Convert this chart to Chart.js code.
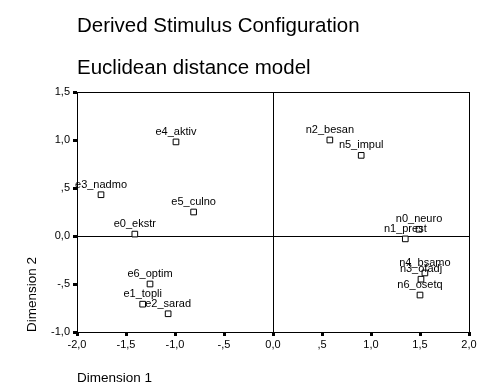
<!DOCTYPE html>
<html>
<head>
<meta charset="utf-8">
<script src="https://cdn.jsdelivr.net/npm/chart.js@4"></script>
<style>
  body { margin: 0; background: #fff; }
  canvas { display: block; }
</style>
</head>
<body>
<canvas id="chart" width="502" height="385"></canvas>
<script>
const stimulusNames = ['e0_ekstr', 'e1_topli', 'e2_sarad', 'e3_nadmo', 'e4_aktiv', 'e5_culno', 'e6_optim',
                       'n0_neuro', 'n1_prest', 'n2_besan', 'n3_ofadj', 'n4_bsamo', 'n5_impul', 'n6_osetq'];
const dimension1 = [-1.41, -1.33, -1.07, -1.755, -0.99, -0.81, -1.255, 1.49, 1.35, 0.58, 1.51, 1.55, 0.90, 1.50];
const dimension2 = [0.02, -0.71, -0.81, 0.43, 0.98, 0.25, -0.50, 0.07, -0.03, 1.00, -0.45, -0.385, 0.84, -0.615];
const xTickLabels = ['-2,0', '-1,5', '-1,0', '-,5', '0,0', ',5', '1,0', '1,5', '2,0'];
const yTickLabels = ['-1,0', '-,5', '0,0', ',5', '1,0', '1,5'];
const titleLines = ['Derived Stimulus Configuration', 'Euclidean distance model'];

const FONT = '"Liberation Sans", Arial, sans-serif';

// frame, titles and point labels
const extras = {
    id: 'extras',
    beforeDraw(chart) {
        const ctx = chart.ctx;
        ctx.save();
        ctx.fillStyle = '#000';
        ctx.font = '20.5px ' + FONT;
        ctx.textBaseline = 'alphabetic';
        ctx.fillText(titleLines[0], chart.chartArea.left, 32);
        ctx.fillText(titleLines[1], chart.chartArea.left, 74);
        ctx.restore();
    },
    afterDatasetsDraw(chart) {
        const ctx = chart.ctx;
        const a = chart.chartArea;
        ctx.save();
        ctx.strokeStyle = '#000';
        ctx.lineWidth = 1;
        ctx.strokeRect(a.left + 0.5, a.top + 0.5, a.right - a.left, a.bottom - a.top);
        ctx.fillStyle = '#000';
        ctx.font = '11px ' + FONT;
        ctx.textAlign = 'center';
        ctx.textBaseline = 'alphabetic';
        const meta = chart.getDatasetMeta(0);
        meta.data.forEach((pt, i) => {
            ctx.fillText(stimulusNames[i], pt.x, pt.y - 7);
        });
        ctx.restore();
    }
};

const points = dimension1.map((x, i) => ({ x: x, y: dimension2[i] }));

new Chart(document.getElementById('chart'), {
    type: 'scatter',
    data: {
        datasets: [{
            data: points,
            pointStyle: 'rect',
            pointRadius: 4,
            pointHoverRadius: 4,
            pointBorderWidth: 1,
            pointBorderColor: '#000',
            pointBackgroundColor: '#fff'
        }]
    },
    options: {
        responsive: false,
        animation: false,
        layout: { padding: { top: 92, right: 33, left: 0, bottom: 0 } },
        plugins: {
            legend: { display: false },
            tooltip: { enabled: false }
        },
        scales: {
            x: {
                type: 'linear',
                min: -2, max: 2,
                afterFit: s => { s.height = 53; },
                ticks: {
                    stepSize: 0.5,
                    color: '#000',
                    font: { family: FONT, size: 11 },
                    padding: 2,
                    maxRotation: 0,
                    callback: (v, i) => xTickLabels[i]
                },
                grid: {
                    color: c => (c.tick && c.tick.value === 0 ? '#000' : 'rgba(0,0,0,0)'),
                    tickColor: '#000',
                    tickLength: 4,
                    tickWidth: 3
                },
                border: { display: false },
                title: {
                    display: true,
                    text: 'Dimension 1',
                    align: 'start',
                    color: '#000',
                    font: { family: FONT, size: 13.5, lineHeight: 1 },
                    padding: { top: 0, bottom: 0 }
                }
            },
            y: {
                type: 'linear',
                min: -1, max: 1.5,
                afterFit: s => { s.width = 77; },
                ticks: {
                    stepSize: 0.5,
                    color: '#000',
                    font: { family: FONT, size: 11 },
                    padding: 3,
                    callback: (v, i) => yTickLabels[i]
                },
                grid: {
                    color: c => (c.tick && c.tick.value === 0 ? '#000' : 'rgba(0,0,0,0)'),
                    tickColor: '#000',
                    tickLength: 4,
                    tickWidth: 3
                },
                border: { display: false },
                title: {
                    display: true,
                    text: 'Dimension 2',
                    align: 'start',
                    color: '#000',
                    font: { family: FONT, size: 13.5, lineHeight: 1 },
                    padding: { top: 26, bottom: 0 }
                }
            }
        }
    },
    plugins: [extras]
});
</script>
</body>
</html>
